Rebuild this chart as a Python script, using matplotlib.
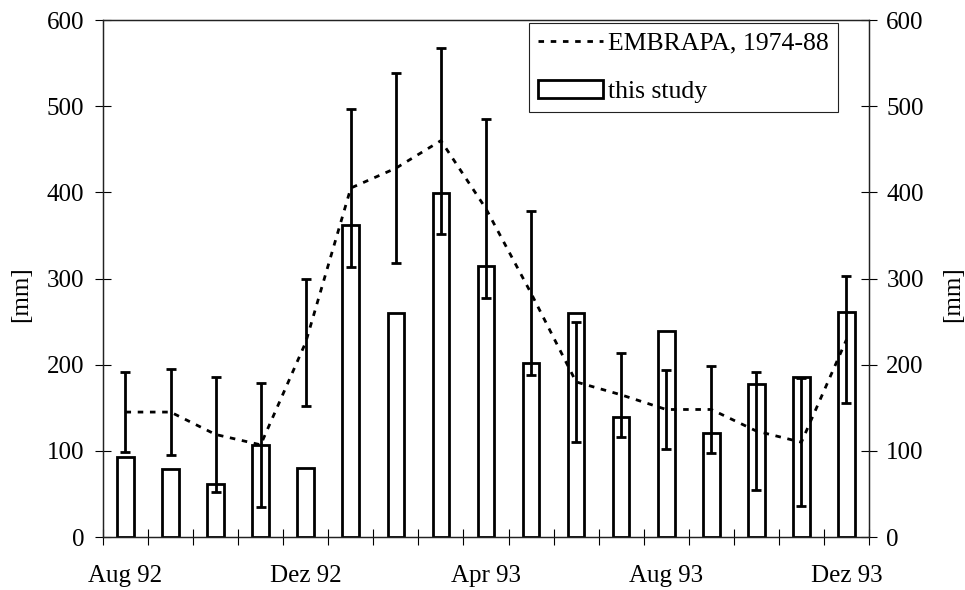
import matplotlib
matplotlib.use("Agg")
import numpy as np
import matplotlib.pyplot as plt
from matplotlib.patches import Patch
from matplotlib.lines import Line2D

# Monthly precipitation, Aug 1992 - Dec 1993
months = ["Aug 92", "Sep 92", "Okt 92", "Nov 92", "Dez 92",
          "Jan 93", "Feb 93", "Mar 93", "Apr 93", "Mai 93", "Jun 93",
          "Jul 93", "Aug 93", "Sep 93", "Okt 93", "Nov 93", "Dez 93"]
this_study = [93, 79, 61, 107, 80, 362, 260, 399, 314, 202, 260,
              139, 239, 121, 178, 186, 261]
embrapa_mean = [145, 145, 119, 107, 226, 405, 428, 460, 381, 283, 180,
                165, 148, 148, 123, 110, 229]
embrapa_sd = [46, 50, 67, 72, 74, 92, 110, 108, 104, 95, 70,
              49, 46, 50, 68, 74, 74]
labelled_months = ["Aug 92", "Dez 92", "Apr 93", "Aug 93", "Dez 93"]

plt.rcParams["font.family"] = ["Liberation Serif", "DejaVu Serif"]
plt.rcParams["font.size"] = 18

LW = 2.0
DASH = (0, (2.0, 2.4))

x = np.arange(len(months))

fig = plt.figure(figsize=(9.65, 5.9), dpi=100)
ax = fig.add_axes([0.1067, 0.0898, 0.7938, 0.8763])

ax.bar(x, this_study, width=0.37, facecolor="white", edgecolor="black",
       linewidth=LW, zorder=2)
ax.plot(x, embrapa_mean, color="black", linewidth=LW, linestyle=DASH,
        zorder=3)
ax.errorbar(x, embrapa_mean, yerr=embrapa_sd, fmt="none", ecolor="black",
            elinewidth=LW, capsize=3.8, capthick=LW, zorder=4)

ax.set_xlim(-0.5, len(months) - 0.5)
ax.set_ylim(0, 600)
ax.set_yticks(np.arange(0, 601, 100))

# category boundaries carry the ticks, month names sit at the centres
ax.set_xticks(np.arange(-0.5, len(months), 1.0))
ax.set_xticklabels([])
label_pos = [months.index(m) for m in labelled_months]
ax.set_xticks(label_pos, minor=True)
ax.set_xticklabels(labelled_months, minor=True)
ax.tick_params(axis="x", which="major", direction="inout", length=11, width=0.8)
ax.tick_params(axis="x", which="minor", length=0, pad=20)
ax.tick_params(axis="y", direction="inout", length=11, width=0.8, pad=8)

ax2 = ax.twinx()
ax2.set_ylim(0, 600)
ax2.set_yticks(np.arange(0, 601, 100))
ax2.tick_params(axis="y", direction="inout", length=11, width=0.8, pad=7)

for a in (ax, ax2):
    for s in a.spines.values():
        s.set_linewidth(0.9)
        s.set_color("#222222")

ax.set_ylabel("[mm]")
ax.yaxis.set_label_coords(-0.0927, 0.47)
ax2.set_ylabel("[mm]")
ax2.yaxis.set_label_coords(1.0953, 0.47)

handles = [
    Line2D([], [], color="black", linewidth=LW, linestyle=DASH),
    Patch(facecolor="white", edgecolor="black", linewidth=LW),
]
leg = ax.legend(handles, ["EMBRAPA, 1974-88", "this study"],
                loc="upper right", bbox_to_anchor=(0.959, 0.994),
                borderaxespad=0, fancybox=False, framealpha=1,
                edgecolor="#222222", handlelength=2.55, handletextpad=0.2,
                labelspacing=1.0, borderpad=0.33, fontsize=18.5)
leg.get_frame().set_linewidth(0.8)

fig.savefig("out.png", dpi=100)
plt.close(fig)
